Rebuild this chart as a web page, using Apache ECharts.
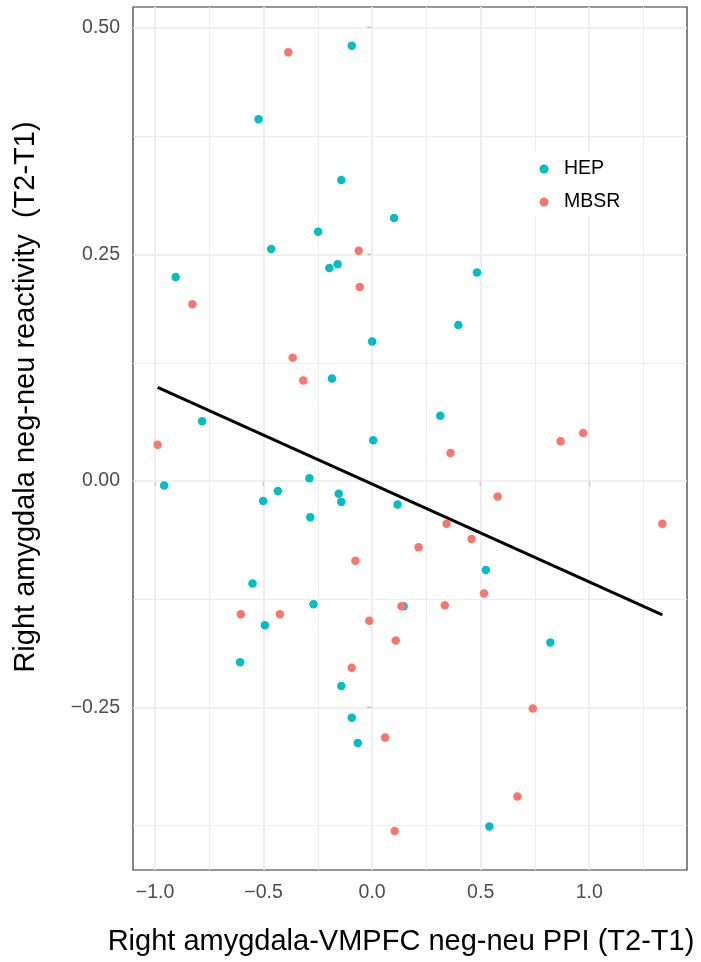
<!DOCTYPE html>
<html>
<head>
<meta charset="utf-8">
<script src="https://cdn.jsdelivr.net/npm/echarts@6/dist/echarts.min.js"></script>
<style>
  html, body { margin: 0; padding: 0; background: #ffffff; }
  #chart { width: 701px; height: 962px; }
</style>
</head>
<body>
<div id="chart"></div>
<script>
// Per-participant change scores, HEP group
const hepX = [-0.094, -0.523, -0.142, 0.101, -0.249, -0.465, -0.197, -0.159, -0.905, 0.483,
              0.000, -0.185, -0.783, 0.005, -0.958, -0.289, -0.434, -0.502, -0.154, -0.142,
              0.117, -0.285, -0.551, 0.397, 0.314, 0.524, -0.270, -0.494, 0.145, -0.608,
              -0.142, -0.094, -0.066, 0.821, 0.540];
const hepY = [0.480, 0.399, 0.332, 0.290, 0.275, 0.256, 0.235, 0.239, 0.225, 0.230,
              0.154, 0.113, 0.066, 0.045, -0.005, 0.003, -0.011, -0.022, -0.014, -0.023,
              -0.026, -0.040, -0.113, 0.172, 0.072, -0.098, -0.136, -0.159, -0.138, -0.200,
              -0.226, -0.261, -0.289, -0.178, -0.381];

// Per-participant change scores, MBSR group
const mbsrX = [-0.386, -0.062, -0.057, -0.828, -0.366, -0.317, -0.988, -0.077, 0.361, 0.868,
               0.972, 0.578, 1.337, 0.343, 0.214, 0.458, 0.515, -0.605, -0.425, -0.013,
               0.135, 0.109, -0.094, 0.060, 0.104, 0.335, 0.740, 0.669];
const mbsrY = [0.473, 0.254, 0.214, 0.195, 0.136, 0.111, 0.040, -0.088, 0.031, 0.044,
               0.053, -0.017, -0.047, -0.047, -0.073, -0.064, -0.124, -0.147, -0.147, -0.154,
               -0.138, -0.176, -0.206, -0.283, -0.386, -0.137, -0.251, -0.348];

// Linear fit across both groups (end points)
const fitX = [-0.988, 1.337];
const fitY = [0.1033, -0.1475];

// Axis ticks and grid lines
const xTicks = [-1, -0.5, 0, 0.5, 1];
const yTicks = [-0.25, 0, 0.25, 0.5];
const xMinor = [-0.75, -0.25, 0.25, 0.75, 1.25];
const yMinor = [-0.375, -0.125, 0.125, 0.375];

const groupNames = ['HEP', 'MBSR'];
const groupColors = ['#00BFC4', '#F8766D'];

const FONT = '"Liberation Sans", Arial, Helvetica, sans-serif';

function zip(xs, ys) { return xs.map((x, i) => [x, ys[i]]); }
function fmt(v, d) {
  const s = Math.abs(v).toFixed(d);
  return v < 0 ? '\u2212' + s : s;
}

// Panel grid lines, drawn beneath the points and the legend box
function gridSeries(id, xs, ys, width) {
  return {
    id: id,
    type: 'line',
    data: [],
    silent: true,
    z: 1,
    markLine: {
      z: 1,
      silent: true,
      symbol: ['none', 'none'],
      animation: false,
      label: { show: false },
      lineStyle: { color: '#EBEBEB', width: width, type: 'solid' },
      emphasis: { disabled: true },
      data: xs.map(v => ({ xAxis: v })).concat(ys.map(v => ({ yAxis: v })))
    }
  };
}

const chart = echarts.init(document.getElementById('chart'), null, { renderer: 'canvas' });

chart.setOption({
  animation: false,
  backgroundColor: '#ffffff',
  grid: {
    left: 133, right: 14, top: 7, bottom: 92,
    show: true, borderColor: '#333333', borderWidth: 1.2, backgroundColor: 'transparent'
  },
  xAxis: {
    type: 'value',
    min: -1.1015, max: 1.4504,
    axisLine: { show: false },
    splitLine: { show: false },
    axisTick: { show: true, length: 5, customValues: xTicks, lineStyle: { color: '#333333', width: 1.2 } },
    axisLabel: {
      customValues: xTicks, margin: 13,
      color: '#4D4D4D', fontSize: 19.5, fontFamily: FONT,
      formatter: v => fmt(v, 1)
    }
  },
  yAxis: {
    type: 'value',
    min: -0.429, max: 0.5228,
    axisLine: { show: false },
    splitLine: { show: false },
    axisTick: { show: true, length: 5, customValues: yTicks, lineStyle: { color: '#333333', width: 1.2 } },
    axisLabel: {
      customValues: yTicks, margin: 13,
      color: '#4D4D4D', fontSize: 19.5, fontFamily: FONT,
      padding: [5, 0, 0, 0],
      formatter: v => fmt(v, 2)
    }
  },
  legend: {
    data: groupNames,
    orient: 'vertical',
    left: 534.5, top: 152,
    icon: 'circle',
    itemWidth: 30, itemHeight: 9, itemGap: 13,
    backgroundColor: '#ffffff',
    padding: [7, 8, 4, 5],
    z: 4,
    textStyle: { color: '#000000', fontSize: 19.5, fontFamily: FONT }
  },
  graphic: [
    {
      type: 'text', x: 401, y: 941.5,
      style: {
        text: 'Right amygdala-VMPFC neg-neu PPI (T2-T1)',
        font: '29px ' + FONT, fill: '#000000',
        textAlign: 'center', textVerticalAlign: 'middle'
      }
    },
    {
      type: 'text', x: 26, y: 397, rotation: Math.PI / 2,
      style: {
        text: 'Right amygdala neg-neu reactivity  (T2-T1)',
        font: '29px ' + FONT, fill: '#000000',
        textAlign: 'center', textVerticalAlign: 'middle'
      }
    }
  ],
  series: [
    gridSeries('minorGrid', xMinor, yMinor, 0.9),
    gridSeries('majorGrid', xTicks, yTicks, 1.7),
    {
      name: 'HEP', type: 'scatter', symbol: 'circle', symbolSize: 8.5, z: 3,
      itemStyle: { color: groupColors[0], opacity: 1, borderWidth: 0 },
      data: zip(hepX, hepY)
    },
    {
      name: 'MBSR', type: 'scatter', symbol: 'circle', symbolSize: 8.5, z: 3,
      itemStyle: { color: groupColors[1], opacity: 1, borderWidth: 0 },
      data: zip(mbsrX, mbsrY)
    },
    {
      name: 'fit', type: 'line', z: 3, showSymbol: false, silent: true,
      lineStyle: { color: '#000000', width: 3 },
      data: zip(fitX, fitY)
    }
  ]
});
</script>
</body>
</html>
